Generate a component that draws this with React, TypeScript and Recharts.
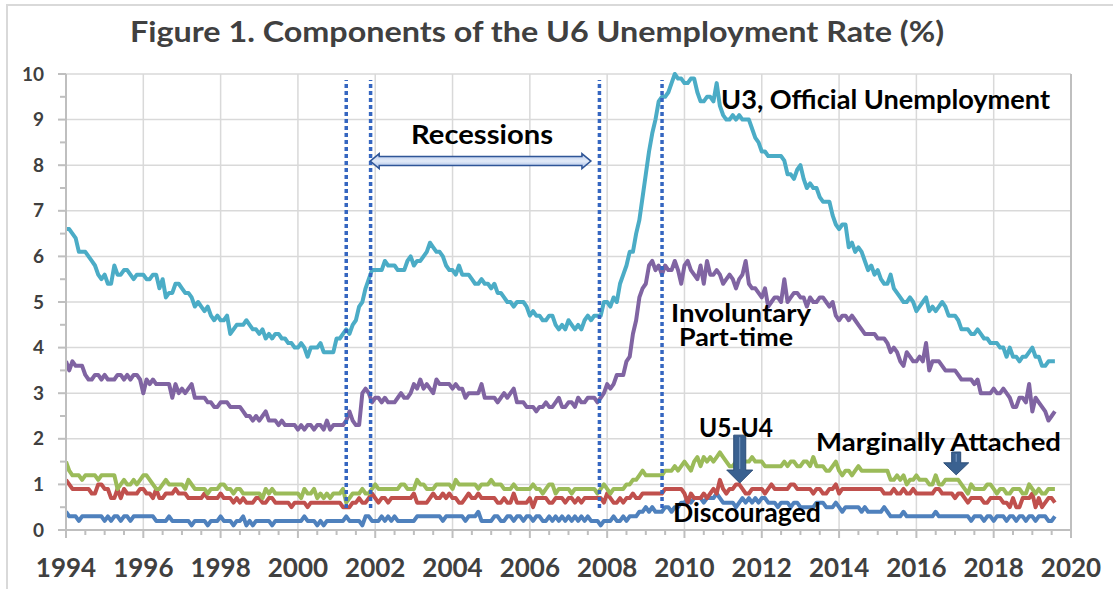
import React from 'react';
import { LineChart, Line, XAxis, YAxis, CartesianGrid, ReferenceLine } from 'recharts';

// ---------- data (monthly, Jan 1994 - Aug 2019, % of labor force) ----------
const START_YEAR = 1994;

const u3 = [
  6.6, 6.6, 6.5, 6.4, 6.1, 6.1, 6.1, 6.0, 5.9, 5.8, 5.6, 5.5,
  5.6, 5.4, 5.4, 5.8, 5.6, 5.6, 5.7, 5.7, 5.6, 5.5, 5.6, 5.6,
  5.6, 5.5, 5.5, 5.6, 5.6, 5.3, 5.5, 5.1, 5.2, 5.2, 5.4, 5.4,
  5.3, 5.2, 5.2, 5.1, 4.9, 5.0, 4.9, 4.8, 4.9, 4.7, 4.6, 4.7,
  4.6, 4.6, 4.7, 4.3, 4.4, 4.5, 4.5, 4.5, 4.6, 4.5, 4.4, 4.4,
  4.3, 4.4, 4.2, 4.3, 4.2, 4.3, 4.3, 4.2, 4.2, 4.1, 4.1, 4.0,
  4.0, 4.1, 4.0, 3.8, 4.0, 4.0, 4.0, 4.1, 3.9, 3.9, 3.9, 3.9,
  4.2, 4.2, 4.3, 4.4, 4.3, 4.5, 4.6, 4.9, 5.0, 5.3, 5.5, 5.7,
  5.7, 5.7, 5.7, 5.9, 5.8, 5.8, 5.8, 5.7, 5.7, 5.7, 5.9, 6.0,
  5.8, 5.9, 5.9, 6.0, 6.1, 6.3, 6.2, 6.1, 6.1, 6.0, 5.8, 5.7,
  5.7, 5.6, 5.8, 5.6, 5.6, 5.6, 5.5, 5.4, 5.4, 5.5, 5.4, 5.4,
  5.3, 5.4, 5.2, 5.2, 5.1, 5.0, 5.0, 4.9, 5.0, 5.0, 5.0, 4.9,
  4.7, 4.8, 4.7, 4.7, 4.6, 4.6, 4.7, 4.7, 4.5, 4.4, 4.5, 4.4,
  4.6, 4.5, 4.4, 4.5, 4.4, 4.6, 4.7, 4.6, 4.7, 4.7, 4.7, 5.0,
  5.0, 4.9, 5.1, 5.0, 5.4, 5.6, 5.8, 6.1, 6.1, 6.5, 6.8, 7.3,
  7.8, 8.3, 8.7, 9.0, 9.4, 9.5, 9.5, 9.6, 9.8, 10.0, 9.9, 9.9,
  9.8, 9.8, 9.9, 9.9, 9.6, 9.4, 9.4, 9.5, 9.5, 9.4, 9.8, 9.3,
  9.1, 9.0, 9.0, 9.1, 9.0, 9.1, 9.0, 9.0, 9.0, 8.8, 8.6, 8.5,
  8.3, 8.3, 8.2, 8.2, 8.2, 8.2, 8.2, 8.1, 7.8, 7.8, 7.7, 7.9,
  8.0, 7.7, 7.5, 7.6, 7.5, 7.5, 7.3, 7.2, 7.2, 7.2, 6.9, 6.7,
  6.6, 6.7, 6.7, 6.2, 6.3, 6.1, 6.2, 6.1, 5.9, 5.7, 5.8, 5.6,
  5.7, 5.5, 5.4, 5.4, 5.6, 5.3, 5.2, 5.1, 5.0, 5.0, 5.1, 5.0,
  4.8, 4.9, 5.0, 5.1, 4.8, 4.9, 4.8, 4.9, 5.0, 4.9, 4.7, 4.7,
  4.7, 4.6, 4.4, 4.4, 4.4, 4.3, 4.3, 4.4, 4.3, 4.2, 4.2, 4.1,
  4.1, 4.1, 4.0, 4.0, 3.8, 4.0, 3.8, 3.8, 3.7, 3.8, 3.8, 3.9,
  4.0, 3.8, 3.8, 3.6, 3.6, 3.7, 3.7, 3.7,
];

const involuntaryPartTime = [
  3.7, 3.5, 3.7, 3.6, 3.6, 3.6, 3.4, 3.3, 3.3, 3.4, 3.4, 3.3,
  3.4, 3.3, 3.3, 3.3, 3.4, 3.4, 3.3, 3.4, 3.3, 3.4, 3.4, 3.3,
  3.0, 3.3, 3.2, 3.3, 3.2, 3.2, 3.2, 3.2, 3.2, 2.9, 3.2, 3.0,
  3.1, 3.0, 3.1, 3.2, 2.9, 2.9, 2.9, 2.9, 2.8, 2.8, 2.7, 2.7,
  2.8, 2.8, 2.8, 2.7, 2.7, 2.7, 2.7, 2.6, 2.5, 2.5, 2.4, 2.5,
  2.4, 2.5, 2.6, 2.4, 2.4, 2.4, 2.3, 2.4, 2.3, 2.3, 2.3, 2.3,
  2.2, 2.3, 2.2, 2.3, 2.3, 2.2, 2.3, 2.3, 2.2, 2.4, 2.2, 2.3,
  2.3, 2.3, 2.3, 2.4, 2.6, 2.4, 2.3, 2.3, 3.0, 3.1, 3.0, 2.8,
  2.9, 2.9, 2.8, 2.9, 2.8, 2.8, 2.8, 2.9, 3.0, 2.9, 2.9, 3.0,
  3.2, 3.1, 3.3, 3.1, 3.2, 3.1, 3.0, 3.3, 3.2, 3.2, 3.2, 3.2,
  3.1, 3.2, 3.1, 3.1, 2.9, 3.0, 3.0, 3.0, 3.0, 3.2, 2.9, 2.9,
  2.9, 2.9, 2.8, 2.9, 3.0, 2.9, 3.0, 3.1, 2.8, 2.8, 2.8, 2.7,
  2.7, 2.7, 2.6, 2.7, 2.7, 2.8, 2.7, 2.7, 2.8, 2.9, 2.7, 2.7,
  2.8, 2.8, 2.7, 2.9, 2.8, 2.8, 2.9, 2.9, 2.9, 2.8, 2.9, 3.0,
  3.2, 3.1, 3.2, 3.4, 3.4, 3.4, 3.7, 3.8, 4.3, 4.6, 5.1, 5.3,
  5.4, 5.8, 5.9, 5.7, 5.8, 5.6, 5.8, 5.7, 5.7, 5.9, 5.7, 5.4,
  5.8, 5.9, 5.7, 5.6, 5.5, 5.8, 5.4, 5.9, 5.6, 5.6, 5.7, 5.6,
  5.4, 5.5, 5.6, 5.5, 5.3, 5.5, 5.6, 5.9, 5.4, 5.3, 5.3, 5.2,
  5.1, 5.3, 4.9, 5.0, 5.1, 5.1, 5.0, 5.5, 5.0, 5.1, 5.2, 5.2,
  5.1, 5.1, 4.9, 5.1, 5.0, 5.0, 5.1, 5.1, 5.0, 4.9, 5.0, 4.7,
  4.6, 4.7, 4.7, 4.6, 4.7, 4.6, 4.5, 4.4, 4.3, 4.3, 4.3, 4.3,
  4.2, 4.2, 4.2, 4.1, 3.9, 4.0, 3.9, 3.7, 3.6, 3.9, 3.8, 3.7,
  3.7, 3.8, 3.7, 4.1, 3.5, 3.7, 3.7, 3.7, 3.6, 3.5, 3.5, 3.5,
  3.5, 3.4, 3.3, 3.3, 3.3, 3.3, 3.2, 3.3, 3.0, 3.0, 3.0, 3.0,
  3.1, 3.0, 3.0, 3.1, 3.0, 2.9, 2.7, 2.7, 2.9, 2.9, 2.8, 3.2,
  2.6, 2.9, 2.8, 2.7, 2.6, 2.4, 2.5, 2.6,
];

const marginallyAttached = [
  1.5, 1.3, 1.2, 1.2, 1.2, 1.1, 1.2, 1.2, 1.2, 1.2, 1.1, 1.2,
  1.2, 1.2, 1.2, 1.2, 0.9, 1.0, 1.1, 1.0, 1.0, 1.1, 1.0, 1.1,
  1.2, 1.2, 1.1, 1.0, 0.9, 0.9, 1.0, 1.1, 1.0, 1.0, 1.0, 1.0,
  1.0, 0.9, 1.1, 1.0, 0.9, 0.9, 0.9, 0.9, 0.8, 0.9, 0.9, 0.9,
  1.0, 1.0, 0.9, 0.9, 0.8, 0.9, 0.9, 0.8, 0.8, 0.8, 0.8, 0.8,
  0.8, 0.7, 0.9, 0.8, 0.9, 0.8, 0.8, 0.8, 0.8, 0.8, 0.8, 0.8,
  0.8, 0.7, 0.9, 0.8, 0.8, 0.9, 0.7, 0.8, 0.7, 0.8, 0.7, 0.8,
  0.8, 0.8, 0.9, 0.6, 0.7, 0.8, 0.8, 0.8, 0.9, 0.8, 0.8, 0.9,
  1.0, 0.9, 0.9, 0.9, 0.9, 0.9, 0.9, 0.9, 1.0, 1.0, 0.9, 0.9,
  0.9, 1.1, 1.0, 1.0, 0.9, 0.9, 0.9, 1.0, 1.0, 1.0, 1.0, 1.0,
  0.9, 1.1, 1.0, 1.0, 1.0, 1.0, 1.0, 1.0, 0.9, 1.0, 1.0, 1.0,
  1.1, 1.0, 1.0, 1.0, 0.9, 0.9, 0.9, 1.0, 0.9, 0.9, 0.9, 0.9,
  0.9, 1.0, 0.9, 0.9, 0.8, 0.9, 1.0, 1.0, 0.8, 0.9, 0.9, 0.9,
  0.9, 0.8, 0.9, 0.9, 0.9, 0.9, 0.9, 0.9, 0.9, 0.8, 0.9, 1.0,
  0.9, 0.8, 0.9, 0.9, 0.9, 0.9, 1.0, 1.0, 1.1, 1.1, 1.2, 1.3,
  1.2, 1.2, 1.2, 1.2, 1.2, 1.2, 1.3, 1.3, 1.3, 1.4, 1.3, 1.4,
  1.5, 1.4, 1.3, 1.5, 1.6, 1.4, 1.6, 1.5, 1.6, 1.5, 1.6, 1.7,
  1.6, 1.5, 1.4, 1.4, 1.5, 1.5, 1.5, 1.5, 1.5, 1.6, 1.5, 1.5,
  1.5, 1.4, 1.4, 1.4, 1.4, 1.4, 1.4, 1.5, 1.4, 1.5, 1.5, 1.4,
  1.4, 1.5, 1.5, 1.4, 1.6, 1.4, 1.4, 1.4, 1.3, 1.3, 1.4, 1.5,
  1.3, 1.2, 1.3, 1.3, 1.2, 1.3, 1.4, 1.3, 1.3, 1.3, 1.3, 1.3,
  1.3, 1.3, 1.3, 1.3, 1.1, 1.1, 1.2, 1.1, 1.2, 1.0, 1.1, 1.1,
  1.2, 1.1, 1.1, 1.1, 1.0, 1.0, 1.2, 1.0, 1.0, 1.1, 1.1, 1.1,
  1.1, 1.1, 1.0, 0.9, 0.8, 1.0, 0.9, 0.9, 0.9, 0.9, 1.0, 1.0,
  0.9, 0.8, 0.9, 0.9, 0.8, 0.8, 0.9, 0.9, 0.9, 0.8, 0.8, 1.0,
  0.9, 0.8, 0.9, 0.8, 0.8, 0.9, 0.9, 0.9,
];

const u5MinusU4 = [
  1.1, 1.0, 0.9, 0.9, 0.9, 0.9, 0.9, 0.9, 0.8, 0.8, 1.0, 1.0,
  0.9, 0.9, 0.7, 0.7, 0.9, 0.7, 0.9, 0.8, 0.8, 0.8, 0.8, 0.9,
  0.9, 0.8, 0.8, 0.7, 0.9, 0.7, 0.7, 0.8, 0.8, 0.8, 0.9, 0.8,
  0.8, 0.8, 0.7, 0.7, 0.7, 0.7, 0.7, 0.8, 0.7, 0.7, 0.7, 0.7,
  0.8, 0.7, 0.7, 0.7, 0.6, 0.7, 0.6, 0.7, 0.6, 0.6, 0.6, 0.7,
  0.7, 0.6, 0.6, 0.7, 0.7, 0.6, 0.6, 0.6, 0.6, 0.6, 0.5, 0.6,
  0.6, 0.6, 0.6, 0.5, 0.6, 0.6, 0.6, 0.6, 0.6, 0.6, 0.6, 0.6,
  0.6, 0.6, 0.5, 0.5, 0.5, 0.6, 0.6, 0.7, 0.6, 0.6, 0.7, 0.8,
  0.7, 0.6, 0.7, 0.7, 0.6, 0.7, 0.7, 0.7, 0.7, 0.7, 0.7, 0.7,
  0.8, 0.6, 0.6, 0.6, 0.6, 0.7, 0.8, 0.7, 0.7, 0.8, 0.7, 0.8,
  0.7, 0.7, 0.6, 0.6, 0.7, 0.8, 0.7, 0.7, 0.8, 0.7, 0.7, 0.7,
  0.7, 0.7, 0.6, 0.6, 0.7, 0.6, 0.6, 0.8, 0.6, 0.6, 0.6, 0.6,
  0.7, 0.5, 0.7, 0.7, 0.7, 0.7, 0.6, 0.6, 0.7, 0.7, 0.7, 0.6,
  0.7, 0.7, 0.6, 0.7, 0.6, 0.7, 0.7, 0.7, 0.7, 0.7, 0.7, 0.6,
  0.8, 0.7, 0.6, 0.6, 0.7, 0.6, 0.7, 0.7, 0.8, 0.7, 0.7, 0.8,
  0.8, 0.8, 0.8, 0.8, 0.8, 0.8, 0.9, 0.9, 0.9, 0.9, 0.9, 0.9,
  0.8, 0.6, 0.8, 0.7, 0.7, 0.7, 0.8, 0.7, 0.8, 0.9, 0.8, 1.1,
  0.9, 0.8, 0.9, 0.9, 1.0, 1.0, 0.9, 0.8, 0.8, 0.9, 0.9, 0.9,
  0.9, 0.8, 0.9, 1.0, 0.9, 0.9, 0.9, 0.9, 0.9, 1.0, 1.0, 0.9,
  0.9, 0.9, 0.9, 0.9, 0.8, 0.9, 0.9, 0.8, 0.8, 0.9, 0.9, 1.0,
  0.8, 0.9, 0.9, 0.9, 0.9, 0.9, 0.9, 0.9, 0.9, 0.9, 0.9, 0.9,
  0.9, 0.9, 0.8, 0.8, 0.8, 0.9, 0.8, 0.8, 0.9, 0.8, 0.8, 0.9,
  0.8, 0.8, 0.8, 0.8, 0.8, 0.8, 0.9, 0.9, 0.8, 0.8, 0.8, 0.8,
  0.7, 0.8, 0.8, 0.7, 0.6, 0.7, 0.7, 0.7, 0.7, 0.6, 0.6, 0.7,
  0.7, 0.7, 0.7, 0.6, 0.6, 0.5, 0.7, 0.5, 0.5, 0.7, 0.7, 0.7,
  0.8, 0.5, 0.7, 0.5, 0.6, 0.7, 0.7, 0.6,
];

const discouraged = [
  0.4, 0.3, 0.3, 0.3, 0.2, 0.3, 0.3, 0.3, 0.3, 0.3, 0.3, 0.3,
  0.2, 0.3, 0.2, 0.3, 0.3, 0.2, 0.3, 0.3, 0.2, 0.3, 0.3, 0.3,
  0.3, 0.3, 0.3, 0.3, 0.2, 0.2, 0.2, 0.2, 0.3, 0.2, 0.2, 0.2,
  0.2, 0.2, 0.2, 0.1, 0.2, 0.2, 0.2, 0.2, 0.1, 0.2, 0.2, 0.2,
  0.3, 0.2, 0.2, 0.2, 0.1, 0.2, 0.2, 0.3, 0.1, 0.2, 0.1, 0.2,
  0.2, 0.2, 0.2, 0.2, 0.1, 0.2, 0.2, 0.2, 0.2, 0.2, 0.2, 0.2,
  0.2, 0.2, 0.3, 0.2, 0.2, 0.2, 0.1, 0.2, 0.1, 0.2, 0.2, 0.2,
  0.2, 0.2, 0.2, 0.3, 0.2, 0.2, 0.2, 0.2, 0.1, 0.3, 0.3, 0.2,
  0.2, 0.2, 0.3, 0.2, 0.3, 0.2, 0.3, 0.2, 0.2, 0.2, 0.2, 0.2,
  0.2, 0.3, 0.3, 0.3, 0.3, 0.3, 0.3, 0.3, 0.3, 0.2, 0.3, 0.3,
  0.3, 0.3, 0.3, 0.3, 0.2, 0.3, 0.3, 0.3, 0.4, 0.2, 0.2, 0.2,
  0.2, 0.3, 0.3, 0.2, 0.2, 0.3, 0.3, 0.2, 0.3, 0.3, 0.2, 0.3,
  0.3, 0.2, 0.3, 0.3, 0.2, 0.2, 0.3, 0.2, 0.3, 0.2, 0.3, 0.2,
  0.3, 0.2, 0.3, 0.2, 0.3, 0.2, 0.3, 0.2, 0.2, 0.2, 0.1, 0.2,
  0.2, 0.2, 0.3, 0.2, 0.2, 0.3, 0.2, 0.3, 0.3, 0.3, 0.4, 0.4,
  0.5, 0.4, 0.5, 0.4, 0.4, 0.4, 0.5, 0.5, 0.4, 0.5, 0.5, 0.6,
  0.6, 0.7, 0.6, 0.7, 0.7, 0.7, 0.6, 0.7, 0.7, 0.7, 0.8, 0.7,
  0.6, 0.6, 0.6, 0.6, 0.5, 0.6, 0.7, 0.6, 0.7, 0.6, 0.7, 0.6,
  0.7, 0.7, 0.6, 0.6, 0.6, 0.5, 0.6, 0.6, 0.6, 0.5, 0.6, 0.6,
  0.5, 0.5, 0.5, 0.5, 0.5, 0.6, 0.6, 0.6, 0.5, 0.5, 0.5, 0.6,
  0.5, 0.4, 0.5, 0.5, 0.5, 0.5, 0.5, 0.4, 0.5, 0.4, 0.4, 0.4,
  0.4, 0.4, 0.5, 0.4, 0.3, 0.3, 0.3, 0.3, 0.4, 0.3, 0.3, 0.3,
  0.3, 0.3, 0.3, 0.3, 0.3, 0.3, 0.4, 0.3, 0.3, 0.3, 0.3, 0.3,
  0.3, 0.3, 0.3, 0.3, 0.3, 0.2, 0.3, 0.3, 0.3, 0.2, 0.3, 0.3,
  0.2, 0.3, 0.3, 0.3, 0.2, 0.3, 0.3, 0.2, 0.3, 0.3, 0.2, 0.3,
  0.3, 0.2, 0.3, 0.3, 0.3, 0.2, 0.2, 0.3,
];

// axis tick labels
const xTickYears = [1994, 1996, 1998, 2000, 2002, 2004, 2006, 2008, 2010, 2012, 2014, 2016, 2018, 2020];
const yTickValues = [0, 1, 2, 3, 4, 5, 6, 7, 8, 9, 10];

// recession boundaries (dotted vertical lines)
const recessionMarks = [2001.25, 2001.88, 2007.8, 2009.42];

// annotation arrows
const recessionArrow = { from: 2001.87, to: 2007.58, level: 8.09 };
const u5u4Arrow = { year: 2011.43, top: 2.08, tip: 1.03 };
const marginalArrow = { year: 2017.03, top: 1.71, tip: 1.21 };

// ---------- derived table ----------
const data = u3.map((v, i) => ({
  x: START_YEAR + i / 12,
  u3: v,
  ipt: involuntaryPartTime[i],
  ma: marginallyAttached[i],
  u5u4: u5MinusU4[i],
  disc: discouraged[i],
}));

const xAllTicks: number[] = [];
xTickYears.forEach((y) => {
  [0, 0.5, 1, 1.5].forEach((d) => {
    if (y + d <= 2020) xAllTicks.push(y + d);
  });
});
const yAllTicks: number[] = [];
yTickValues.forEach((v) => {
  [0, 0.5].forEach((d) => {
    if (v + d <= 10) yAllTicks.push(v + d);
  });
});

const FONT = "Lato, 'Open Sans', 'DejaVu Sans', sans-serif";
const AXIS_COLOR = '#bfbfbf';
const LABEL_COLOR = '#404040';

function XTick(props: any) {
  const { x, y, payload } = props;
  const v = payload.value as number;
  const major = xTickYears.includes(v);
  return (
    <g>
      <line x1={x} x2={x} y1={y} y2={y + (major ? 8 : 5)} stroke={AXIS_COLOR} strokeWidth={2} />
      {major && (
        <text x={x} y={y + 47} textAnchor="middle" fontFamily={FONT} fontWeight={700} fontSize={26} fill={LABEL_COLOR}>
          {v}
        </text>
      )}
    </g>
  );
}

function YTickLeft(props: any) {
  const { x, y, payload } = props;
  const v = payload.value as number;
  const major = Number.isInteger(v);
  return (
    <g>
      <line x1={x} x2={x - (major ? 8 : 6)} y1={y} y2={y} stroke={AXIS_COLOR} strokeWidth={2} />
      {major && (
        <text x={x - 22} y={y + 6.5} textAnchor="end" fontFamily={FONT} fontWeight={700} fontSize={19} fill={LABEL_COLOR}>
          {v}
        </text>
      )}
    </g>
  );
}

function YTickRight(props: any) {
  const { x, y, payload } = props;
  const v = payload.value as number;
  const major = Number.isInteger(v);
  return (
    <g>
      <line x1={x} x2={x + (major ? 8 : 6)} y1={y} y2={y} stroke={AXIS_COLOR} strokeWidth={2} />
      {major && (
        <text x={x + 22} y={y + 6.5} textAnchor="start" fontFamily={FONT} fontWeight={700} fontSize={19} fill={LABEL_COLOR}>
          {v}
        </text>
      )}
    </g>
  );
}

function DottedShape(props: any) {
  const { x1, x2, y1, y2 } = props;
  return <line x1={x1} x2={x2} y1={y1} y2={y2} stroke="#3566c0" strokeWidth={3.5} strokeDasharray="4 3" />;
}

function DoubleArrowShape(props: any) {
  const { x1, x2, y1 } = props;
  const l = Math.min(x1, x2);
  const r = Math.max(x1, x2);
  const y = y1;
  const hl = 9;
  const hh = 7.5;
  const bh = 4.5;
  const pts = [
    [l, y], [l + hl, y - hh], [l + hl, y - bh], [r - hl, y - bh], [r - hl, y - hh], [r, y],
    [r - hl, y + hh], [r - hl, y + bh], [l + hl, y + bh], [l + hl, y + hh],
  ].map((p) => p.join(',')).join(' ');
  return (
    <g>
      <defs>
        <linearGradient id="recGrad" x1="0" y1="0" x2="0" y2="1">
          <stop offset="0" stopColor="#b3c6ea" />
          <stop offset="0.5" stopColor="#e3ebf8" />
          <stop offset="1" stopColor="#9fb7e3" />
        </linearGradient>
      </defs>
      <polygon points={pts} fill="url(#recGrad)" stroke="#2f5597" strokeWidth={1.5} strokeLinejoin="miter" />
    </g>
  );
}

function makeDownArrow(shaftW: number, headW: number, headL: number) {
  return function DownArrowShape(props: any) {
    const { x1, y1, y2 } = props;
    const x = x1;
    const top = Math.min(y1, y2);
    const tip = Math.max(y1, y2);
    const hs = tip - headL;
    const pts = [
      [x - shaftW / 2, top], [x + shaftW / 2, top], [x + shaftW / 2, hs], [x + headW / 2, hs],
      [x, tip], [x - headW / 2, hs], [x - shaftW / 2, hs],
    ].map((p) => p.join(',')).join(' ');
    return (
      <g>
        <polygon points={pts} fill="#3a6190" stroke="#2c4d77" strokeWidth={1} />
        <line x1={x} x2={x} y1={top + 2} y2={hs - 1} stroke="#7d9cc4" strokeWidth={1} />
      </g>
    );
  };
}

const U5Arrow = makeDownArrow(12, 26, 13);
const MAArrow = makeDownArrow(9, 25, 12);

const annotations = [
  { text: 'U3, Official Unemployment', x: 721, y: 108.5, len: 329, size: 26 },
  { text: 'Recessions', x: 411, y: 144, len: 142, size: 26 },
  { text: 'Involuntary', x: 671, y: 322, len: 140, size: 24 },
  { text: 'Part-time', x: 679, y: 345.5, len: 114, size: 24 },
  { text: 'U5-U4', x: 699, y: 436.5, len: 74, size: 26 },
  { text: 'Marginally Attached', x: 816, y: 451, len: 245, size: 25 },
  { text: 'Discouraged', x: 673, y: 521.5, len: 148, size: 26 },
];

const LINE_W = 4;

export default function App() {
  return (
    <div style={{ position: 'absolute', left: 0, top: 0, width: 1113, height: 589, background: '#ffffff', overflow: 'hidden' }}>
      <LineChart width={1113} height={589} data={data} margin={{ top: 74, right: 0, bottom: 0, left: 0 }}>
        <CartesianGrid
          stroke="#d9d9d9"
          strokeWidth={1.5}
          horizontalValues={yTickValues}
          verticalValues={xTickYears}
        />
        <XAxis
          dataKey="x"
          type="number"
          domain={[1994, 2020]}
          ticks={xAllTicks}
          interval={0}
          allowDataOverflow
          height={59}
          tickSize={0}
          tickMargin={0}
          tickLine={false}
          axisLine={{ stroke: AXIS_COLOR, strokeWidth: 2 }}
          tick={(p: any) => <XTick {...p} />}
        />
        <YAxis
          type="number"
          domain={[0, 10]}
          ticks={yAllTicks}
          interval={0}
          width={66}
          tickSize={0}
          tickMargin={0}
          tickLine={false}
          axisLine={{ stroke: AXIS_COLOR, strokeWidth: 2 }}
          tick={(p: any) => <YTickLeft {...p} />}
        />
        <YAxis
          yAxisId="right"
          orientation="right"
          type="number"
          domain={[0, 10]}
          ticks={yAllTicks}
          interval={0}
          width={42}
          tickSize={0}
          tickMargin={0}
          tickLine={false}
          axisLine={{ stroke: AXIS_COLOR, strokeWidth: 2 }}
          tick={(p: any) => <YTickRight {...p} />}
        />
        <Line dataKey="disc" stroke="#4f81bd" strokeWidth={LINE_W} dot={false} isAnimationActive={false} strokeLinejoin="round" />
        <Line dataKey="u5u4" stroke="#c0504d" strokeWidth={LINE_W} dot={false} isAnimationActive={false} strokeLinejoin="round" />
        <Line dataKey="ma" stroke="#9bbb59" strokeWidth={LINE_W} dot={false} isAnimationActive={false} strokeLinejoin="round" />
        <Line dataKey="ipt" stroke="#8064a2" strokeWidth={LINE_W} dot={false} isAnimationActive={false} strokeLinejoin="round" />
        <Line dataKey="u3" stroke="#4bacc6" strokeWidth={LINE_W} dot={false} isAnimationActive={false} strokeLinejoin="round" />
        {recessionMarks.map((yr) => (
          <ReferenceLine
            key={yr}
            segment={[{ x: yr, y: 0.48 }, { x: yr, y: 9.87 }]}
            shape={(p: any) => <DottedShape {...p} />}
          />
        ))}
        <ReferenceLine
          segment={[{ x: recessionArrow.from, y: recessionArrow.level }, { x: recessionArrow.to, y: recessionArrow.level }]}
          shape={(p: any) => <DoubleArrowShape {...p} />}
        />
        <ReferenceLine
          segment={[{ x: u5u4Arrow.year, y: u5u4Arrow.top }, { x: u5u4Arrow.year, y: u5u4Arrow.tip }]}
          shape={(p: any) => <U5Arrow {...p} />}
        />
        <ReferenceLine
          segment={[{ x: marginalArrow.year, y: marginalArrow.top }, { x: marginalArrow.year, y: marginalArrow.tip }]}
          shape={(p: any) => <MAArrow {...p} />}
        />
      </LineChart>
      <svg width={1113} height={589} style={{ position: 'absolute', left: 0, top: 0, pointerEvents: 'none' }}>
        <rect x={7} y={5} width={1140} height={620} fill="none" stroke="#d9d9d9" strokeWidth={2} />
        <text x={130} y={42} fontFamily={FONT} fontWeight={700} fontSize={29} fill={LABEL_COLOR} textLength={814} lengthAdjust="spacingAndGlyphs">
          Figure 1. Components of the U6 Unemployment Rate (%)
        </text>
        {annotations.map((a) => (
          <text key={a.text} x={a.x} y={a.y} fontFamily={FONT} fontWeight={700} fontSize={a.size} fill="#000000" textLength={a.len} lengthAdjust="spacingAndGlyphs">
            {a.text}
          </text>
        ))}
      </svg>
    </div>
  );
}
